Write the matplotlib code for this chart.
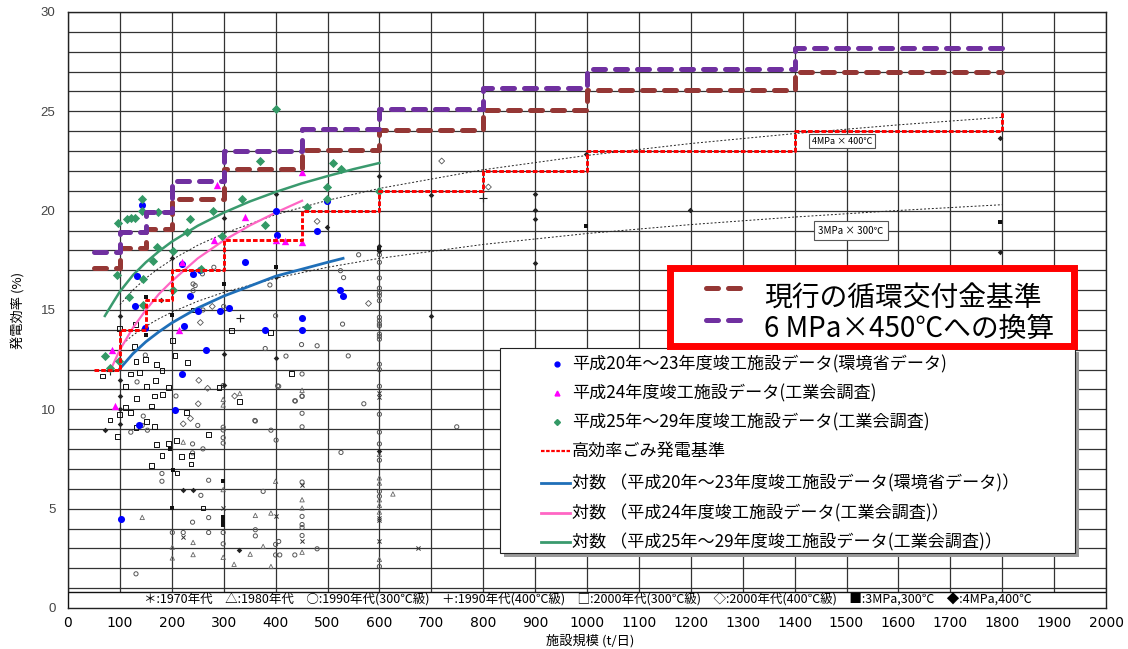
import numpy as np
import matplotlib
matplotlib.use("Agg")
import matplotlib.pyplot as plt
from matplotlib.patches import Rectangle
from matplotlib.lines import Line2D

plt.rcParams['font.family'] = ['Noto Sans CJK JP', 'DejaVu Sans']

W, H = 1128, 649

# ---- step standards (facility scale edges in t/day, efficiency in %) ----
step_edges = [50, 100, 150, 200, 300, 450, 600, 800, 1000, 1400, 1800]
high_eff_std = [12, 14, 15.5, 17, 18.5, 20, 21, 22, 23, 24]
high_eff_last = 25
grant_std = [17.1, 18.1, 19.1, 20.6, 22.1, 23.05, 24.05, 25.05, 26.05, 27.0]
grant_6mpa = [17.9, 18.95, 19.95, 21.5, 23.0, 24.1, 25.1, 26.15, 27.15, 28.2]

# ---- colored survey data ----
h20_x = [142, 133, 129, 220, 241, 235, 148, 224, 251, 292, 310, 265, 341, 219, 254,
         206, 136, 103, 402, 480, 499, 524, 530, 450, 450, 380, 400]
h20_y = [20.3, 16.7, 15.2, 17.3, 16.8, 15.7, 14.1, 14.2, 14.95, 14.95, 15.1, 13.0, 17.4, 11.8, 17.0,
         9.95, 9.2, 4.5, 18.8, 19.0, 20.5, 16.0, 15.7, 14.6, 14.0, 14.0, 20.0]
h24_x = [288, 341, 281, 220, 213, 85, 90, 400, 419, 450, 450]
h24_y = [21.3, 19.7, 18.5, 17.4, 14.0, 13.0, 10.15, 18.5, 18.45, 18.4, 21.95]
h25_x = [143, 143, 174, 97, 113, 121, 129, 236, 280, 336, 229, 171, 202, 163, 297, 95, 144,
         256, 202, 117, 144, 72, 81, 99, 401, 369, 510, 526, 499, 460, 380, 599, 499]
h25_y = [20.6, 19.97, 19.93, 19.4, 19.56, 19.63, 19.63, 19.56, 19.98, 20.57, 18.95, 18.18, 17.98,
         17.49, 18.74, 16.78, 16.57, 17.07, 16.0, 15.67, 15.27, 12.7, 12.1, 12.44, 25.1, 22.5, 22.4,
         22.1, 21.2, 20.2, 19.26, 21.0, 20.57]

# ---- logarithmic trend lines ----
trend20_x = [100, 125, 150, 175, 200, 250, 300, 350, 400, 450, 500, 530]
trend20_y = [12.05, 12.8, 13.4, 13.9, 14.35, 15.1, 15.7, 16.2, 16.7, 17.05, 17.4, 17.6]
trend24_x = [84, 100, 125, 150, 175, 200, 250, 300, 350, 400, 451]
trend24_y = [12.1, 13.0, 14.1, 15.0, 15.8, 16.45, 17.6, 18.5, 19.25, 19.9, 20.5]
trend25_x = [71, 85, 100, 125, 150, 175, 200, 250, 300, 350, 400, 450, 500, 550, 600]
trend25_y = [14.7, 15.3, 15.93, 16.75, 17.4, 17.95, 18.44, 19.24, 19.9, 20.46, 20.94, 21.37, 21.74, 22.09, 22.4]
ref4_x = [100, 125, 150, 175, 200, 250, 300, 400, 500, 600, 800, 1000, 1200, 1400, 1600, 1800]
ref4_y = [15.27, 16.0, 16.6, 17.1, 17.53, 18.26, 18.85, 19.8, 20.52, 21.12, 22.06, 22.78, 23.38, 23.88, 24.32, 24.7]
ref3_x = [100, 125, 150, 175, 200, 250, 300, 400, 500, 600, 800, 1000, 1200, 1400, 1600, 1800]
ref3_y = [13.18, 13.73, 14.18, 14.56, 14.89, 15.44, 15.89, 16.6, 17.15, 17.6, 18.3, 18.85, 19.3, 19.68, 20.01, 20.3]

# ---- historical facilities (grey markers) ----
circ_x = [406, 451, 438, 451, 451, 361, 391, 401, 570, 526, 600, 600, 600, 600, 600, 451, 376, 451, 451,
          451, 451, 361, 361, 406, 400, 400, 408, 437, 480, 600, 600, 600, 560, 525, 531, 529, 450, 480,
          380, 420, 540, 451, 400, 389, 404, 600, 600, 600, 600, 600, 600, 600, 600, 600, 600, 600, 600,
          600, 600, 600, 600, 281, 259, 241, 245, 241, 260, 300, 133, 149, 145, 153, 143, 121, 208, 250,
          260, 240, 240, 299, 299, 299, 299, 181, 181, 256, 271, 240, 271, 271, 222, 201, 299, 299, 131,
          360, 437, 451, 749, 299]
circ_y = [11.16, 10.67, 10.42, 9.8, 9.12, 9.41, 8.95, 8.45, 10.28, 7.83, 11.16, 9.75, 8.85, 8.26, 7.44,
          6.34, 5.87, 4.61, 4.2, 4.05, 3.65, 3.94, 3.63, 3.35, 3.2, 2.67, 2.67, 2.67, 2.98, 5.62, 5.87,
          2.09, 17.78, 16.98, 16.63, 14.29, 13.26, 13.2, 13.06, 12.68, 12.69, 11.78, 14.71, 16.26, 11.18,
          17.78, 17.4, 16.61, 16.1, 15.86, 15.72, 15.47, 14.63, 14.46, 14.29, 14.2, 13.79, 13.67, 13.53,
          12.27, 12.0, 17.15, 16.82, 16.31, 16.23, 15.97, 15.0, 15.18, 11.38, 12.73, 9.66, 8.95, 9.19,
          8.85, 10.67, 9.19, 8.01, 8.26, 7.81, 9.1, 8.57, 8.3, 8.96, 6.77, 6.38, 5.67, 6.43, 4.32, 4.55,
          3.8, 3.8, 3.8, 3.8, 3.23, 1.72, 9.44, 10.43, 10.65, 9.12, 11.2]
dia_x = [252, 269, 278, 255, 236, 222, 251, 321, 720, 810, 480, 579]
dia_y = [11.46, 11.06, 15.18, 14.37, 9.54, 9.27, 10.28, 10.67, 22.5, 21.19, 19.46, 15.33]
sq_x = [111, 151, 194, 291, 132, 166, 182, 161, 111, 120, 99, 81, 229, 151, 166, 95, 131, 270, 171,
        193, 209, 181, 219, 238, 237, 161, 210, 260, 330, 67, 121, 131, 150, 171, 181, 169, 206, 231,
        130, 100, 128, 315, 201, 241, 138, 431, 390]
sq_y = [11.14, 11.14, 11.09, 11.09, 10.56, 10.67, 10.76, 10.17, 10.08, 9.83, 9.75, 9.46, 9.83, 9.37,
        9.12, 8.65, 9.07, 8.74, 8.23, 8.26, 8.43, 7.66, 7.64, 7.69, 7.25, 7.17, 6.8, 5.03, 10.38, 11.68,
        11.78, 12.39, 12.5, 12.27, 11.97, 11.46, 12.69, 12.34, 14.29, 14.07, 13.16, 13.95, 13.48, 15.0,
        11.87, 11.8, 13.87]
tri_x = [143, 222, 201, 201, 241, 241, 299, 299, 299, 351, 320, 331, 299, 400, 451, 451, 391, 361,
         376, 391, 451, 626, 600, 600, 600, 600, 600, 600, 600, 451]
tri_y = [4.56, 8.35, 3.06, 2.52, 3.3, 2.69, 2.55, 10.5, 10.22, 2.71, 2.2, 10.8, 5.96, 6.38, 5.45,
         5.03, 4.78, 4.66, 3.1, 2.09, 2.81, 5.74, 7.73, 6.55, 6.29, 5.45, 5.17, 4.83, 2.45, 10.96]
star_x = [600, 451, 600, 600, 451, 400, 674, 222, 299, 600, 600]
star_y = [10.84, 6.2, 4.53, 3.35, 3.38, 4.61, 3.01, 3.59, 5.03, 4.44, 10.6]
plus_x = [331, 81, 799]
plus_y = [14.58, 11.93, 20.65]
fsq_x = [151, 200, 151, 300, 197, 202, 400, 600, 999, 1796, 200, 299, 299, 299, 299]
fsq_y = [13.74, 14.75, 15.67, 16.31, 8.01, 6.97, 17.15, 18.08, 19.22, 19.43, 5.03, 6.41, 4.6, 4.4, 4.2]
fdia_x = [300, 201, 101, 300, 400, 600, 700, 700, 400, 899, 999, 1796, 1796, 899, 899, 899, 1198,
          100, 100, 71, 222, 240, 329, 179, 400, 499, 600, 600, 600, 300, 100, 100]
fdia_y = [19.63, 17.62, 14.7, 12.78, 20.86, 21.77, 20.77, 14.68, 12.56, 20.86, 22.84, 23.64, 17.91,
          20.05, 19.6, 17.35, 20.05, 10.67, 9.27, 8.95, 5.92, 5.96, 2.93, 15.52, 16.65, 19.17, 18.2,
          17.95, 7.9, 11.2, 10.0, 11.5]

x_ticks = list(range(0, 2001, 100))
y_ticks = list(range(0, 31, 5))

legend_labels = [
    '平成20年～23年度竣工施設データ(環境省データ)',
    '平成24年度竣工施設データ(工業会調査)',
    '平成25年～29年度竣工施設データ(工業会調査)',
    '高効率ごみ発電基準',
    '対数 （平成20年～23年度竣工施設データ(環境省データ)）',
    '対数 （平成24年度竣工施設データ(工業会調査)）',
    '対数 （平成25年～29年度竣工施設データ(工業会調査)）',
]
marker_key = ('＊:1970年代\u3000△:1980年代\u3000○:1990年代(300℃級)\u3000＋:1990年代(400℃級)\u3000'
              '□:2000年代(300℃級)\u3000◇:2000年代(400℃級)\u3000■:3MPa,300℃\u3000◆:4MPa,400℃')

BLUE = '#0000ff'
MAGENTA = '#ff00ff'
GREEN = '#339966'
BROWN = '#953735'
PURPLE = '#7030a0'
RED = '#ff0000'
STD_DASH = (2.4, 2.0)


def fx(px):
    return px / W


def fy(py):
    return 1 - py / H


def steps(edges, values):
    xs = np.repeat(edges, 2)[1:-1]
    ys = np.repeat(values, 2)
    return xs, ys


fig = plt.figure(figsize=(W / 100, H / 100), dpi=100)
ax = fig.add_axes([fx(68), fy(608), (1106 - 68) / W, (608 - 12) / H])
ax.set_xlim(0, 2000)
ax.set_ylim(0, 30)
ax.set_xticks(x_ticks)
ax.set_yticks(y_ticks)
ax.set_yticks(range(0, 31), minor=True)
ax.grid(which='both', color='#333333', lw=0.9, zorder=0)
ax.set_axisbelow(True)
ax.tick_params(which='both', length=0)
ax.tick_params(axis='x', pad=6, labelsize=10)
ax.tick_params(axis='y', pad=9, labelsize=9.5, labelcolor='#444444')
for lab in ax.get_xticklabels():
    lab.set_family(['Liberation Sans Narrow', 'DejaVu Sans'])
for lab in ax.get_yticklabels():
    lab.set_family(['Liberation Sans', 'DejaVu Sans'])
for sp in ax.spines.values():
    sp.set_color('#222222')
    sp.set_linewidth(1)

# historical markers
ax.scatter(circ_x, circ_y, s=9, marker='o', facecolors='none', edgecolors='#555555', lw=0.7, zorder=3)
ax.scatter(dia_x, dia_y, s=9, marker='D', facecolors='none', edgecolors='#555555', lw=0.6, zorder=3)
ax.scatter(sq_x, sq_y, s=12, marker='s', facecolors='none', edgecolors='#111111', lw=0.7, zorder=3)
ax.scatter(tri_x, tri_y, s=10, marker='^', facecolors='none', edgecolors='#666666', lw=0.6, zorder=3)
ax.scatter(star_x, star_y, s=9, marker='x', color='#333333', lw=0.7, zorder=3)
ax.scatter(plus_x, plus_y, s=30, marker='+', color='#222222', lw=0.8, zorder=3)
ax.scatter(fsq_x, fsq_y, s=9, marker='s', color='#111111', lw=0, zorder=3)
ax.scatter(fdia_x, fdia_y, s=8, marker='D', color='#222222', lw=0, zorder=3)

# reference curves for 4MPa x 400C and 3MPa x 300C
ax.plot(ref4_x, ref4_y, color='#222222', lw=0.7, ls=(0, (2, 2)), zorder=2)
ax.plot(ref3_x, ref3_y, color='#222222', lw=0.7, ls=(0, (2, 2)), zorder=2)
ax.text(1491, 23.5, '4MPa × 400℃', fontsize=6.5, ha='center', va='center', zorder=6,
        bbox=dict(fc='white', ec='#555555', lw=0.8, pad=2))
ax.text(1509, 19.0, '3MPa × 300℃', fontsize=7, ha='center', va='center', zorder=6,
        bbox=dict(fc='white', ec='#555555', lw=0.8, pad=3))

# trend lines
ax.plot(trend20_x, trend20_y, color='#1f6fb8', lw=2, zorder=4)
ax.plot(trend24_x, trend24_y, color='#ff66c4', lw=1.6, zorder=4)
ax.plot(trend25_x, trend25_y, color='#3a9a6e', lw=1.8, zorder=4)

# survey points
ax.scatter(h20_x, h20_y, s=26, marker='o', color=BLUE, lw=0, zorder=5)
ax.scatter(h24_x, h24_y, s=28, marker='^', color=MAGENTA, lw=0, zorder=5)
ax.scatter(h25_x, h25_y, s=22, marker='D', color=GREEN, lw=0, zorder=5)

# standards
rx, ry = steps(step_edges, high_eff_std)
rx = np.append(rx, step_edges[-1])
ry = np.append(ry, high_eff_last)
ax.plot(rx, ry, color=RED, lw=2.1, ls=(0, (1.6, 0.7)), zorder=6)
bx, by = steps(step_edges, grant_std)
ax.plot(bx, by, color=BROWN, lw=3.6, dashes=STD_DASH, dash_capstyle='round', zorder=7)
px_, py_ = steps(step_edges, grant_6mpa)
ax.plot(px_, py_, color=PURPLE, lw=3.6, dashes=STD_DASH, dash_capstyle='round', zorder=7)

# marker key strip along the bottom
ax.add_patch(Rectangle((0, 0), 2000, 0.83, fc='white', ec='#111111', lw=1, zorder=8))
ax.text(1002, 0.41, marker_key, fontsize=9, ha='center', va='center', zorder=9,
        family=['Noto Sans CJK JP', 'DejaVu Sans'])

# axis titles
fig.text(fx(590), fy(641), '施設規模 (t/日)', fontsize=9.5, ha='center', va='center')
fig.text(fx(18), fy(310), '発電効率 (%)', fontsize=9.5, rotation=90, ha='center', va='center')

# series legend
fig.add_artist(Rectangle((fx(504), fy(557)), (1075 - 500) / W, (553 - 348) / H,
                         transform=fig.transFigure, fc='#9a9a9a', ec='none', zorder=10))
fig.add_artist(Rectangle((fx(500), fy(553)), (1075 - 500) / W, (553 - 348) / H,
                         transform=fig.transFigure, fc='white', ec='#222222', lw=0.8, zorder=11))
rows = [364, 393, 422, 451, 483, 513, 542]
fig.add_artist(Line2D([fx(557)], [fy(rows[0])], marker='o', ms=3.5, color=BLUE, lw=0,
                      transform=fig.transFigure, zorder=12))
fig.add_artist(Line2D([fx(557)], [fy(rows[1])], marker='^', ms=3.5, color=MAGENTA, lw=0,
                      transform=fig.transFigure, zorder=12))
fig.add_artist(Line2D([fx(557)], [fy(rows[2])], marker='D', ms=3, color=GREEN, lw=0,
                      transform=fig.transFigure, zorder=12))
fig.add_artist(Line2D([fx(541), fx(570)], [fy(rows[3])] * 2, color=RED, lw=1.6, ls=(0, (1.6, 0.7)),
                      transform=fig.transFigure, zorder=12))
for r, c in zip(rows[4:], ['#1f6fb8', '#ff66c4', '#3a9a6e']):
    fig.add_artist(Line2D([fx(541), fx(570)], [fy(r)] * 2, color=c, lw=2,
                          transform=fig.transFigure, zorder=12))
for r, t in zip(rows, legend_labels):
    fig.text(fx(572), fy(r), t, fontsize=12.3, ha='left', va='center', zorder=12)

# standards legend in the red frame
fig.add_artist(Rectangle((fx(670), fy(346)), (1074 - 670) / W, (346 - 268) / H,
                         transform=fig.transFigure, fc='white', ec=RED, lw=5, zorder=13))
fig.add_artist(Line2D([fx(706), fx(742)], [fy(288)] * 2, color=BROWN, lw=3.6, dashes=STD_DASH,
                      dash_capstyle='round', transform=fig.transFigure, zorder=14))
fig.add_artist(Line2D([fx(706), fx(742)], [fy(320)] * 2, color=PURPLE, lw=3.6, dashes=STD_DASH,
                      dash_capstyle='round', transform=fig.transFigure, zorder=14))
fig.text(fx(764), fy(299), '現行の循環交付金基準', fontsize=20, ha='left', va='center', zorder=14)
fig.text(fx(764), fy(329), '6 MPa×450℃への換算', fontsize=20, ha='left', va='center', zorder=14)

fig.savefig('out.png', dpi=100)
